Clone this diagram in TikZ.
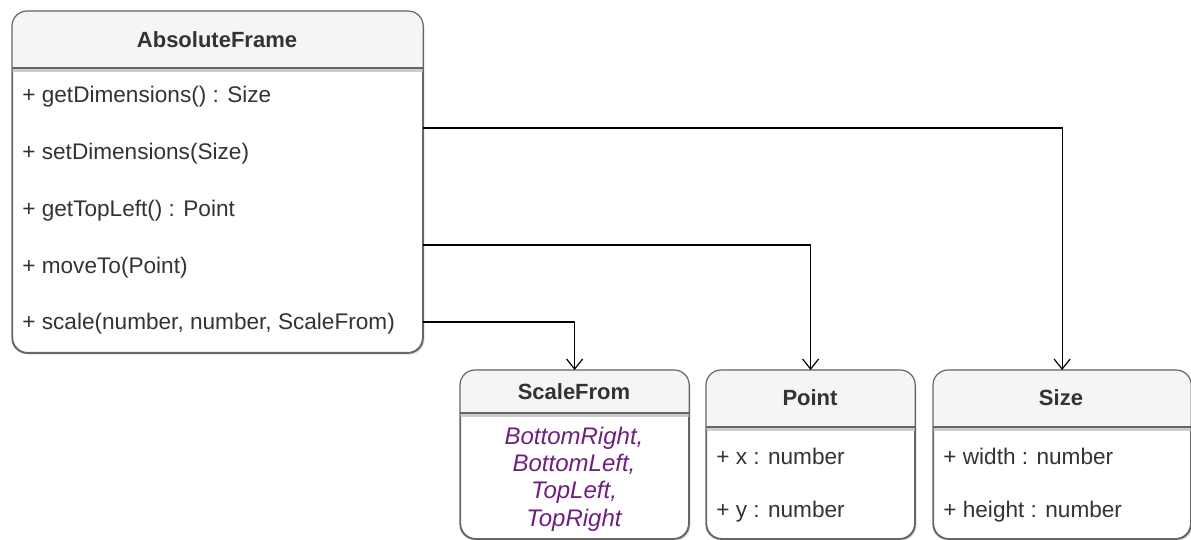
\documentclass[tikz,border=0pt]{standalone}
\usepackage{fontspec}
\setmainfont{Liberation Sans}
\usetikzlibrary{arrows.meta,calc,shadows}

\definecolor{lineGray}{HTML}{666666}
\definecolor{headGray}{HTML}{F5F5F5}
\definecolor{textGray}{HTML}{333333}
\definecolor{enumPurple}{HTML}{6E1F80}

\begin{document}
\begin{tikzpicture}[x=0.5pt,y=-0.5pt,
    classbox/.style={draw=lineGray,fill=white,line width=0.6pt,rounded corners=7.5pt,
        anchor=north west,inner sep=0pt,
        drop shadow={shadow xshift=1pt,shadow yshift=-1pt,opacity=0.25,fill=gray}},
    classname/.style={font=\fontsize{11}{13}\selectfont\bfseries,text=textGray,inner sep=0pt},
    member/.style={font=\fontsize{11.3}{13}\selectfont,text=textGray,anchor=west,inner sep=0pt},
    assoc/.style={draw=black,line width=0.6pt,-{Straight Barb[length=5pt,width=8pt]}}]

\def\FRAMEW{205pt}
\def\SMALLH{84pt}
    \useasboundingbox (0,0) rectangle (1191,540);

    % class boxes
    \node[classbox,minimum width=\FRAMEW,minimum height=170.5pt] (frame) at (12,11) {};
    \node[classbox,minimum width=114pt,minimum height=\SMALLH] (scalefrom) at (460,370) {};
    \node[classbox,minimum width=104pt,minimum height=\SMALLH] (point) at (706,370) {};
    \node[classbox,minimum width=128.5pt,minimum height=\SMALLH] (size) at (933,370) {};

    % headers
    \foreach \cls/\head in {frame/68,scalefrom/413,point/427,size/427}{
        \coordinate (\cls-div) at (0,\head);
        \begin{scope}
            \clip[rounded corners=7.5pt] (\cls.north west) rectangle (\cls.south east);
            \fill[headGray] (\cls.north west) rectangle (\cls.east |- \cls-div);
            \fill[gray!40] (\cls.west |- \cls-div) rectangle ([yshift=-2pt]\cls.east |- \cls-div);
        \end{scope}
        \draw[lineGray,line width=0.6pt,rounded corners=7.5pt] (\cls.north west) rectangle (\cls.south east);
        \draw[lineGray,line width=0.7pt] (\cls.west |- \cls-div) -- (\cls.east |- \cls-div);
    }

    \node[classname] (frametitle) at (217,40) {AbsoluteFrame};
    \node[classname] (scalefromtitle) at (574,392) {ScaleFrom};
    \node[classname] (pointtitle) at (810,398) {Point};
    \node[classname] (sizetitle) at (1061,398) {Size};

    % members
    \node[member] (getdim) at (22,97) {+ getDimensions() : Size};
    \node[member] (setdim) at (22,154) {+ setDimensions(Size)};
    \node[member] (gettopleft) at (22,211) {+ getTopLeft() : Point};
    \node[member] (moveto) at (22,268) {+ moveTo(Point)};
    \node[member] (scale) at (22,324) {+ scale(number, number, ScaleFrom)};

    \node[font=\fontsize{12}{13.6}\selectfont\itshape,text=enumPurple,align=center,inner sep=0pt]
        (values) at (574,479) {BottomRight,\\BottomLeft,\\TopLeft,\\TopRight};

    \node[member] (px) at (716,456) {+ x : number};
    \node[member] (py) at (716,512) {+ y : number};
    \node[member] (width) at (943,456) {+ width : number};
    \node[member] (height) at (943,512) {+ height : number};

    % associations
    \coordinate (sizelink) at (422,128);
    \coordinate (pointlink) at (422,245);
    \coordinate (scalelink) at (422,322);
    \draw[assoc] (frame.east |- sizelink) -| (size.north);
    \draw[assoc] (frame.east |- pointlink) -| (point.north);
    \draw[assoc] (frame.east |- scalelink) -| (scalefrom.north);

\end{tikzpicture}
\end{document}
